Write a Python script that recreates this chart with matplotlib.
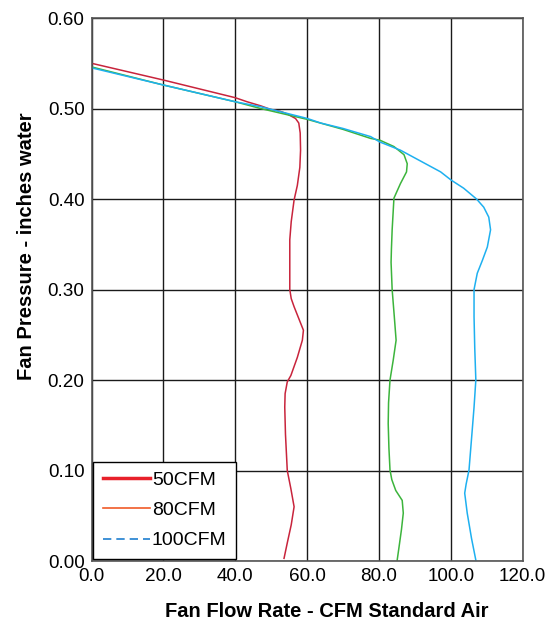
import matplotlib
matplotlib.use("Agg")
import matplotlib.pyplot as plt
from matplotlib.lines import Line2D

plt.rcParams['font.family'] = ['Liberation Sans', 'DejaVu Sans']

# fan curves: flow (CFM) and pressure (in. water)
flow_50 = [0.0, 20.0, 40.0, 43.3, 47.1, 49.9, 52.5, 54.5, 56.8, 57.7, 58.1, 58.2, 58.0,
           57.3, 56.4, 55.6, 55.2, 55.2, 55.6, 56.4, 58.0, 59.0, 58.7, 57.3, 55.5,
           54.5, 53.9, 53.8, 54.0, 54.5, 55.5, 56.4, 55.6, 54.5, 53.6]
pres_50 = [0.550, 0.5315, 0.512, 0.5075, 0.503, 0.499, 0.497, 0.494, 0.489, 0.484, 0.473,
           0.454, 0.435, 0.415, 0.399, 0.375, 0.355, 0.30, 0.290, 0.281, 0.265, 0.255,
           0.244, 0.225, 0.205, 0.198, 0.185, 0.170, 0.140, 0.100, 0.080, 0.060,
           0.040, 0.020, 0.003]

flow_80 = [0.0, 20.0, 40.0, 47.1, 60.1, 70.0, 77.7, 80.3, 84.2, 87.0, 87.9, 87.7, 86.0,
           84.2, 83.7, 83.5, 83.4, 83.7, 84.3, 84.8, 84.0, 83.1, 82.7, 82.6,
           82.8, 83.1, 83.6, 84.7, 86.5, 86.8, 86.3, 85.6, 85.1]
pres_80 = [0.546, 0.526, 0.5075, 0.500, 0.488, 0.477, 0.467, 0.465, 0.458, 0.449, 0.439,
           0.430, 0.417, 0.401, 0.366, 0.345, 0.33, 0.30, 0.27, 0.244, 0.222,
           0.20, 0.175, 0.152, 0.125, 0.1006, 0.090, 0.078, 0.067, 0.053, 0.035,
           0.015, 0.001]

flow_100 = [0.0, 20.0, 40.0, 47.1, 60.1, 63.8, 70.0, 77.7, 80.3, 86.0, 91.6, 97.2, 100.1,
            103.6, 107.2, 109.2, 110.6, 111.1, 110.2, 108.8, 107.4, 106.5, 106.5,
            106.7, 107.0, 106.5, 106.0, 105.1, 104.3, 103.9, 104.6, 105.8, 107.0]
pres_100 = [0.545, 0.526, 0.5075, 0.502, 0.489, 0.484, 0.478, 0.469, 0.463, 0.454,
            0.442, 0.430, 0.421, 0.412, 0.400, 0.391, 0.380, 0.366, 0.347, 0.332, 0.318,
            0.300, 0.270, 0.235, 0.200, 0.170, 0.145, 0.1006, 0.085, 0.075, 0.053,
            0.025, 0.001]

x_ticks = [0, 20, 40, 60, 80, 100, 120]
y_ticks = [0.0, 0.1, 0.2, 0.3, 0.4, 0.5, 0.6]
legend_names = ['50CFM', '80CFM', '100CFM']

fig = plt.figure(figsize=(5.53, 6.22), dpi=100)
ax = fig.add_axes([0.1655, 0.098, 0.7794, 0.873])

ax.plot(flow_50, pres_50, color='#c8243c', lw=1.1)
ax.plot(flow_80, pres_80, color='#3cb43c', lw=1.1)
ax.plot(flow_100, pres_100, color='#1eb0f0', lw=1.1)

ax.set_xlim(0, 120)
ax.set_ylim(0, 0.6)
ax.set_xticks(x_ticks)
ax.set_yticks(y_ticks)
ax.set_xticklabels(['%.1f' % v for v in x_ticks], fontsize=13.6)
ax.set_yticklabels(['%.2f' % v for v in y_ticks], fontsize=13.6)
ax.tick_params(length=0, pad=5)
ax.grid(True, color='#1a1a1a', lw=1.0)
ax.set_axisbelow(True)
for s in ax.spines.values():
    s.set_color('#555555')
    s.set_linewidth(1.2)

ax.set_xlabel('Fan Flow Rate - CFM Standard Air', fontsize=14.5, fontweight='bold')
ax.set_ylabel('Fan Pressure - inches water', fontsize=14.5, fontweight='bold')
ax.xaxis.set_label_coords(0.546, -0.075)
ax.yaxis.set_label_coords(-0.129, 0.58)

# legend colours do not match the curves in the original, kept as is
handles = [Line2D([], [], color='#e8202a', lw=2.5),
           Line2D([], [], color='#f05a28', lw=1.2),
           Line2D([], [], color='#1f7fd0', lw=1.2, ls=(0, (5, 3)))]
leg = ax.legend(handles, legend_names, loc='lower left', fontsize=14, fancybox=False,
                framealpha=1, edgecolor='black', handlelength=2.4, handletextpad=0.1,
                borderaxespad=0.1, labelspacing=0.65, borderpad=0.5)
leg.get_frame().set_linewidth(1.0)

fig.savefig('out.png', dpi=100)
